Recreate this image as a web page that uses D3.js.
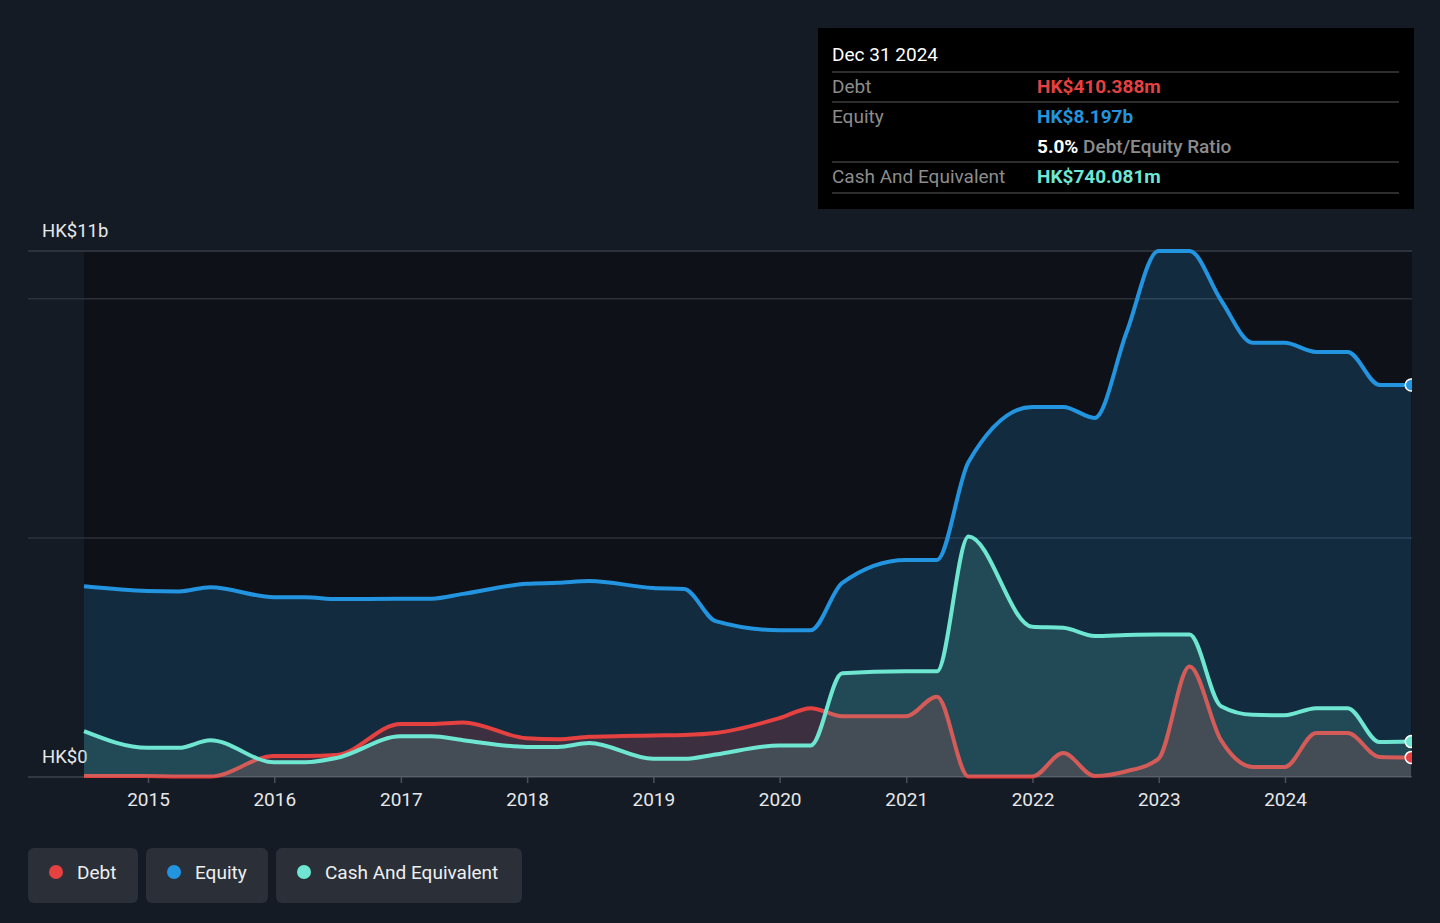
<!DOCTYPE html>
<html>
<head>
<meta charset="utf-8">
<script src="https://cdn.jsdelivr.net/npm/d3@7"></script>
<style>
  body { margin: 0; background: #151b24; font-family: Roboto, "Noto Sans", sans-serif; }
</style>
</head>
<body>
<script>
let width = 1440;
let height = 923;

// reporting dates and values (HK$ billions)
const dates = ["2014-06-30", "2014-12-31", "2015-03-31", "2015-06-30", "2015-12-31", "2016-03-31", "2016-06-30",
    "2016-12-31", "2017-03-31", "2017-06-30", "2017-12-31", "2018-03-31", "2018-06-30", "2018-12-31", "2019-03-31",
    "2019-06-30", "2019-12-31", "2020-03-31", "2020-06-30", "2020-12-31", "2021-03-31", "2021-06-30", "2021-12-31",
    "2022-03-31", "2022-06-30", "2022-09-30", "2022-12-31", "2023-03-31", "2023-06-30", "2023-09-30", "2023-12-31",
    "2024-03-31", "2024-06-30", "2024-09-30", "2024-12-31"];
const debt = [0.02, 0.02, 0.01, 0.01, 0.44, 0.44, 0.46, 1.11, 1.11, 1.14, 0.81, 0.79, 0.84, 0.87, 0.88,
    0.92, 1.23, 1.44, 1.27, 1.27, 1.68, 0.01, 0.01, 0.50, 0.02, 0.12, 0.38, 2.31, 0.77, 0.21, 0.21,
    0.92, 0.92, 0.42, 0.410];
const equity = [3.99, 3.89, 3.88, 3.97, 3.76, 3.76, 3.72, 3.73, 3.73, 3.83, 4.04, 4.06, 4.10, 3.95, 3.93,
    3.26, 3.07, 3.07, 4.06, 4.54, 4.54, 6.59, 7.74, 7.74, 7.51, 9.3, 11.0, 11.0, 9.97, 9.08, 9.08,
    8.89, 8.89, 8.20, 8.197];
const cash = [0.96, 0.61, 0.61, 0.77, 0.31, 0.31, 0.40, 0.85, 0.85, 0.77, 0.63, 0.63, 0.71, 0.38, 0.38,
    0.47, 0.66, 0.66, 2.17, 2.21, 2.21, 5.03, 3.14, 3.12, 2.95, 2.97, 2.98, 2.98, 1.48, 1.30, 1.29,
    1.44, 1.44, 0.73, 0.740];
const years = [2015, 2016, 2017, 2018, 2019, 2020, 2021, 2022, 2023, 2024];
const gridValues = [0, 5, 10, 11];
const yLabels = [{ v: 11, text: "HK$11b" }, { v: 0, text: "HK$0" }];
const legendItems = ["Debt", "Equity", "Cash And Equivalent"];
const colors = { Debt: "#e64141", Equity: "#2394df", "Cash And Equivalent": "#6ee6d2" };
const tipRows = [
    { label: "Debt", value: "HK$410.388m", color: "#e64141" },
    { label: "Equity", value: "HK$8.197b", color: "#2394df" },
    { label: "", value: "5.0%", extra: " Debt/Equity Ratio", color: "#ffffff" },
    { label: "Cash And Equivalent", value: "HK$740.081m", color: "#6ee6d2" }
];

const parse = d3.utcParse("%Y-%m-%d");
const rows = dates.map((d, i) => ({ date: parse(d), debt: debt[i], equity: equity[i], cash: cash[i] }));

let x = d3.scaleUtc()
    .domain([new Date(Date.UTC(2015, 0, 1)), new Date(Date.UTC(2024, 0, 1))])
    .range([148, 1285]);
let y = d3.scaleLinear().domain([0, 11]).range([777, 251]);
const right = 1412;

let svg = d3.select("body").append("svg")
    .attr("width", width)
    .attr("height", height);

svg.append("defs").append("clipPath").attr("id", "clip")
    .append("rect").attr("x", 0).attr("y", 0).attr("width", right).attr("height", height);

// dark plot panel
const x0 = x(rows[0].date);
svg.append("rect")
    .attr("x", x0).attr("y", y(11))
    .attr("width", right - x0).attr("height", y(0) - y(11))
    .attr("fill", "#0e1117");

// gridlines
svg.selectAll("line.grid").data(gridValues).enter().append("line")
    .attr("class", "grid")
    .attr("x1", 28).attr("x2", right)
    .attr("y1", d => y(d)).attr("y2", d => y(d))
    .attr("stroke", d => d === 0 ? "#3c424b" : "#2c323b")
    .attr("stroke-width", d => d === 11 ? 2 : 1.5);

// x axis
const xAxis = svg.append("g")
    .attr("transform", `translate(0,${y(0)})`)
    .call(d3.axisBottom(x)
        .tickValues(years.map(yr => new Date(Date.UTC(yr, 0, 1))))
        .tickFormat(d3.utcFormat("%Y"))
        .tickSize(6)
        .tickPadding(10));
xAxis.select(".domain").remove();
xAxis.selectAll(".tick line").attr("stroke", "#4a5059").attr("stroke-width", 1.5);
xAxis.selectAll(".tick text")
    .attr("fill", "#e6e8ea")
    .style("font-size", "19px")
    .style("font-family", "Roboto, sans-serif");

// y labels
svg.selectAll("text.ylab").data(yLabels).enter().append("text")
    .attr("class", "ylab")
    .attr("x", 42)
    .attr("y", d => y(d.v) - 14)
    .text(d => d.text)
    .attr("fill", "#e6e8ea")
    .style("font-size", "18.5px");

const plot = svg.append("g").attr("clip-path", "url(#clip)");

const area = key => d3.area().curve(d3.curveMonotoneX)
    .x(d => x(d.date)).y0(y(0)).y1(d => y(d[key]));
const line = key => d3.line().curve(d3.curveMonotoneX)
    .x(d => x(d.date)).y(d => y(d[key]));

const series = [
    { key: "equity", color: colors.Equity, op: 0.2 },
    { key: "debt", color: colors.Debt, op: 0.2 },
    { key: "cash", color: colors["Cash And Equivalent"], op: 0.16 }
];

series.forEach(s => {
    plot.append("path")
        .datum(rows)
        .attr("d", area(s.key))
        .attr("fill", s.color)
        .attr("fill-opacity", s.op);
    plot.append("path")
        .datum(rows)
        .attr("d", line(s.key))
        .attr("fill", "none")
        .attr("stroke", s.color)
        .attr("stroke-width", 4)
        .attr("stroke-linejoin", "round");
});

// end markers
const last = rows[rows.length - 1];
plot.selectAll("circle.end").data(series).enter().append("circle")
    .attr("class", "end")
    .attr("cx", x(last.date))
    .attr("cy", d => y(last[d.key]))
    .attr("r", 6)
    .attr("fill", d => d.color)
    .attr("stroke", "#ffffff")
    .attr("stroke-width", 1.5);

// tooltip box
const tip = svg.append("g").attr("transform", "translate(818,28)");
tip.append("rect").attr("width", 596).attr("height", 181).attr("fill", "#000000");
tip.append("text").attr("x", 14).attr("y", 33).text("Dec 31 2024")
    .attr("fill", "#ffffff").style("font-size", "19px");
[44, 74, 134, 165].forEach(ly => {
    tip.append("line").attr("x1", 14).attr("x2", 581).attr("y1", ly).attr("y2", ly)
        .attr("stroke", "#3d3d3d").attr("stroke-width", 1.5);
});
tipRows.forEach((r, i) => {
    const ty = 65 + i * 30;
    tip.append("text").attr("x", 14).attr("y", ty).text(r.label)
        .attr("fill", "#8c8c8c").style("font-size", "19px");
    const t = tip.append("text").attr("x", 219).attr("y", ty).style("font-size", "19px");
    t.append("tspan").text(r.value).attr("fill", r.color).style("font-weight", 700);
    if (r.extra) t.append("tspan").text(r.extra).attr("fill", "#8c8c8c").style("font-weight", 500);
});

// legend
const legendX = [28, 146, 276];
const legendW = [110, 122, 246];
const legend = svg.selectAll("g.legend").data(legendItems).enter().append("g")
    .attr("class", "legend")
    .attr("transform", (d, i) => `translate(${legendX[i]},848)`);
legend.append("rect")
    .attr("width", (d, i) => legendW[i]).attr("height", 55)
    .attr("rx", 6).attr("fill", "#2a2f38");
legend.append("circle")
    .attr("cx", 28).attr("cy", 24).attr("r", 7)
    .attr("fill", d => colors[d]);
legend.append("text")
    .attr("x", 49).attr("y", 31)
    .text(d => d)
    .attr("fill", "#f0f0f0")
    .style("font-size", "19px");
</script>
</body>
</html>
